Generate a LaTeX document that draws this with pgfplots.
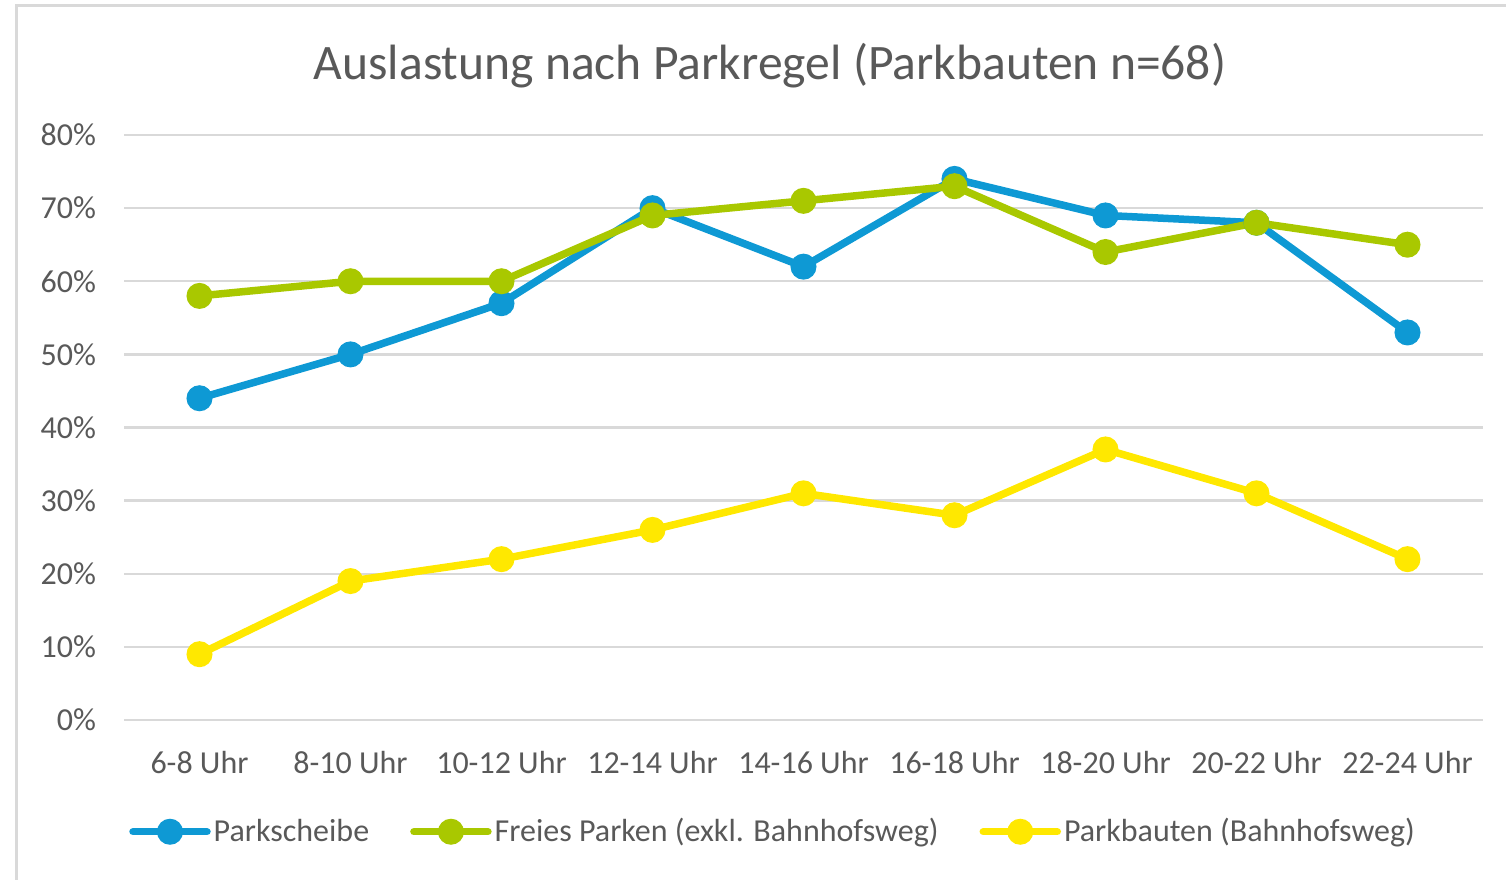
\documentclass[border=0pt]{standalone}
\usepackage{fontspec}
\setmainfont{Carlito}
\usepackage{pgfplots}
\pgfplotsset{compat=1.18}

\definecolor{txt}{HTML}{595959}
\definecolor{gridc}{HTML}{D9D9D9}
\definecolor{cblue}{HTML}{0E99D4}
\definecolor{cgreen}{HTML}{A9C800}
\definecolor{cyellow}{HTML}{FFE800}

\begin{document}
\begin{tikzpicture}
% picture size: 1506 x 879 px at 0.5pt per px
\useasboundingbox (0pt,0pt) rectangle (753pt,-439.5pt);
\draw[gridc, line width=1.5pt] (8pt,-440pt) -- (8pt,-2.5pt) -- (754pt,-2.5pt);

\begin{axis}[
  at={(62pt,-360pt)}, anchor=south west,
  scale only axis,
  width=679.5pt, height=292.5pt,
  xmin=-0.5, xmax=8.5,
  ymin=0, ymax=80,
  axis line style={draw=none},
  tick style={draw=none},
  ymajorgrids,
  grid style={gridc, line width=1.2pt},
  ytick={0,10,...,80},
  yticklabels={0\%,10\%,20\%,30\%,40\%,50\%,60\%,70\%,80\%},
  xtick={0,...,8},
  xticklabels={6-8 Uhr,8-10 Uhr,10-12 Uhr,12-14 Uhr,14-16 Uhr,16-18 Uhr,18-20 Uhr,20-22 Uhr,22-24 Uhr},
  tick label style={font=\fontsize{16pt}{19pt}\selectfont, text=txt},
  yticklabel style={xshift=-10.5pt},
  xticklabel style={yshift=-12pt},
  clip=false,
  every axis plot/.append style={line width=3.75pt, mark=*, mark size=4.6pt},
  legend columns=3,
  legend style={at={(0.478,-0.191)}, anchor=center, draw=none, fill=none,
    font=\fontsize{16pt}{19pt}\selectfont, text=txt,
    nodes={inner xsep=1.5pt},
    /tikz/every even column/.append style={column sep=19pt}},
  legend image code/.code={%
    \draw[mark repeat=2, mark phase=2, line cap=round, #1] plot coordinates {(0pt,0pt) (18.5pt,0pt) (37pt,0pt)};},
]
% Parkscheibe
\addplot[cblue, mark options={fill=cblue, draw=cblue}] coordinates {
  (0,44) (1,50) (2,57) (3,70) (4,62) (5,74) (6,69) (7,68) (8,53)};
% Freies Parken (exkl. Bahnhofsweg)
\addplot[cgreen, mark options={fill=cgreen, draw=cgreen}] coordinates {
  (0,58) (1,60) (2,60) (3,69) (4,71) (5,73) (6,64) (7,68) (8,65)};
% Parkbauten (Bahnhofsweg)
\addplot[cyellow, mark options={fill=cyellow, draw=cyellow}] coordinates {
  (0,9) (1,19) (2,22) (3,26) (4,31) (5,28) (6,37) (7,31) (8,22)};
\legend{Parkscheibe, Freies Parken (exkl. Bahnhofsweg), Parkbauten (Bahnhofsweg)}
\end{axis}

\node[text=txt, font=\fontsize{24.8pt}{30pt}\selectfont] at (385pt,-33pt)
  {Auslastung nach Parkregel (Parkbauten n=68)};
\end{tikzpicture}
\end{document}
